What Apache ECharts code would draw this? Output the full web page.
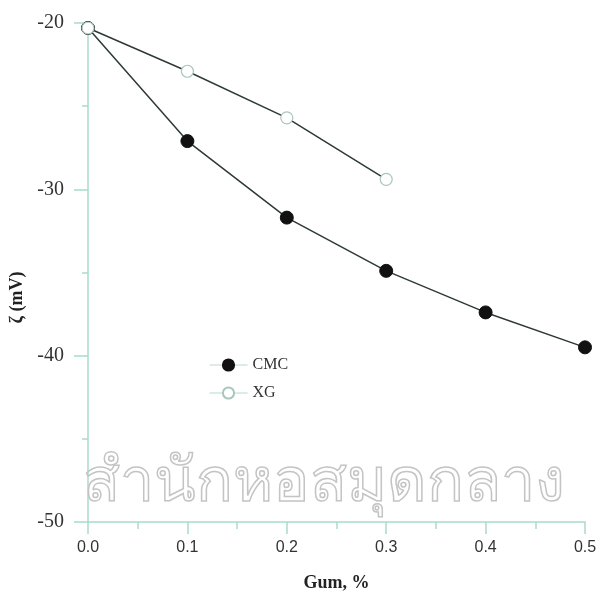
<!DOCTYPE html>
<html><head><meta charset="utf-8">
<script src="https://cdn.jsdelivr.net/npm/echarts@6/dist/echarts.min.js"></script>
<style>html,body{margin:0;padding:0;background:#fff}#c{width:601px;height:597px}</style>
</head><body><div id="c"></div>
<script>
const gumPct = [0.0, 0.1, 0.2, 0.3, 0.4, 0.5];
const cmcZeta = [-20.3, -27.1, -31.7, -34.9, -37.4, -39.5];
const xgGum = [0.0, 0.1, 0.2, 0.3];
const xgZeta = [-20.3, -22.9, -25.7, -29.4];
const seriesNames = ['CMC', 'XG'];

const axisCol = '#a8dccb';
const lineCol = '#2e3a37';
const chart = echarts.init(document.getElementById('c'));
chart.setOption({
  animation: false,
  backgroundColor: '#fff',
  grid: {left: 88, right: 16, top: 23, bottom: 75},
  legend: {
    orient: 'vertical', left: 204, top: 352, itemGap: 12, itemWidth: 38, itemHeight: 14,
    data: seriesNames,
    textStyle: {fontFamily: 'Liberation Serif', fontSize: 16, color: '#333'},
    lineStyle: {color: '#b9d8cf', width: 1}
  },
  xAxis: {
    type: 'value', min: 0, max: 0.5, interval: 0.1,
    name: 'Gum, %', nameLocation: 'middle', nameGap: 52,
    nameTextStyle: {fontFamily: 'Liberation Serif', fontWeight: 'bold', fontSize: 18, color: '#222'},
    axisLine: {lineStyle: {color: axisCol, width: 1.5}},
    axisTick: {inside: false, length: 12, lineStyle: {color: axisCol, width: 1.5}},
    minorTick: {show: true, splitNumber: 2, length: 7, lineStyle: {color: axisCol, width: 1.5}},
    splitLine: {show: false},
    axisLabel: {formatter: v => v.toFixed(1), margin: 18, fontFamily: 'Liberation Sans Narrow, Liberation Sans', fontSize: 16, color: '#333'}
  },
  yAxis: {
    type: 'value', min: -50, max: -20, interval: 10,
    name: 'ζ (mV)', nameLocation: 'middle', nameGap: 56, nameRotate: 90,
    nameTextStyle: {fontFamily: 'Liberation Serif', fontWeight: 'bold', fontSize: 18, color: '#222', padding: [0, 50, 0, 0]},
    axisLine: {lineStyle: {color: axisCol, width: 1.5}},
    axisTick: {inside: false, length: 14, lineStyle: {color: axisCol, width: 1.5}},
    minorTick: {show: true, splitNumber: 2, length: 6, lineStyle: {color: axisCol, width: 1.5}},
    splitLine: {show: false},
    axisLabel: {margin: 24, fontFamily: 'Liberation Serif', fontSize: 20, color: '#333'}
  },
  series: [
    {
      name: 'CMC', type: 'line', data: gumPct.map((g, i) => [g, cmcZeta[i]]),
      symbol: 'circle', symbolSize: 13,
      lineStyle: {color: lineCol, width: 1.5},
      itemStyle: {color: '#111', borderColor: '#111', borderWidth: 1}
    },
    {
      name: 'XG', type: 'line', data: xgGum.map((g, i) => [g, xgZeta[i]]),
      symbol: 'circle', symbolSize: 12,
      lineStyle: {color: lineCol, width: 1.5},
      itemStyle: {color: '#fff', borderColor: '#a9c6be', borderWidth: 1.2}
    }
  ],
  graphic: [
    {
      type: 'text', left: 82, top: 452, z: 100, silent: true,
      style: {text: 'สำนักหอสมุดกลาง', fontFamily: 'Noto Sans, DejaVu Sans', fontSize: 61,
        fill: 'rgba(0,0,0,0)', stroke: '#c4c4c4', lineWidth: 1.5}
    }
  ]
});
</script></body></html>
